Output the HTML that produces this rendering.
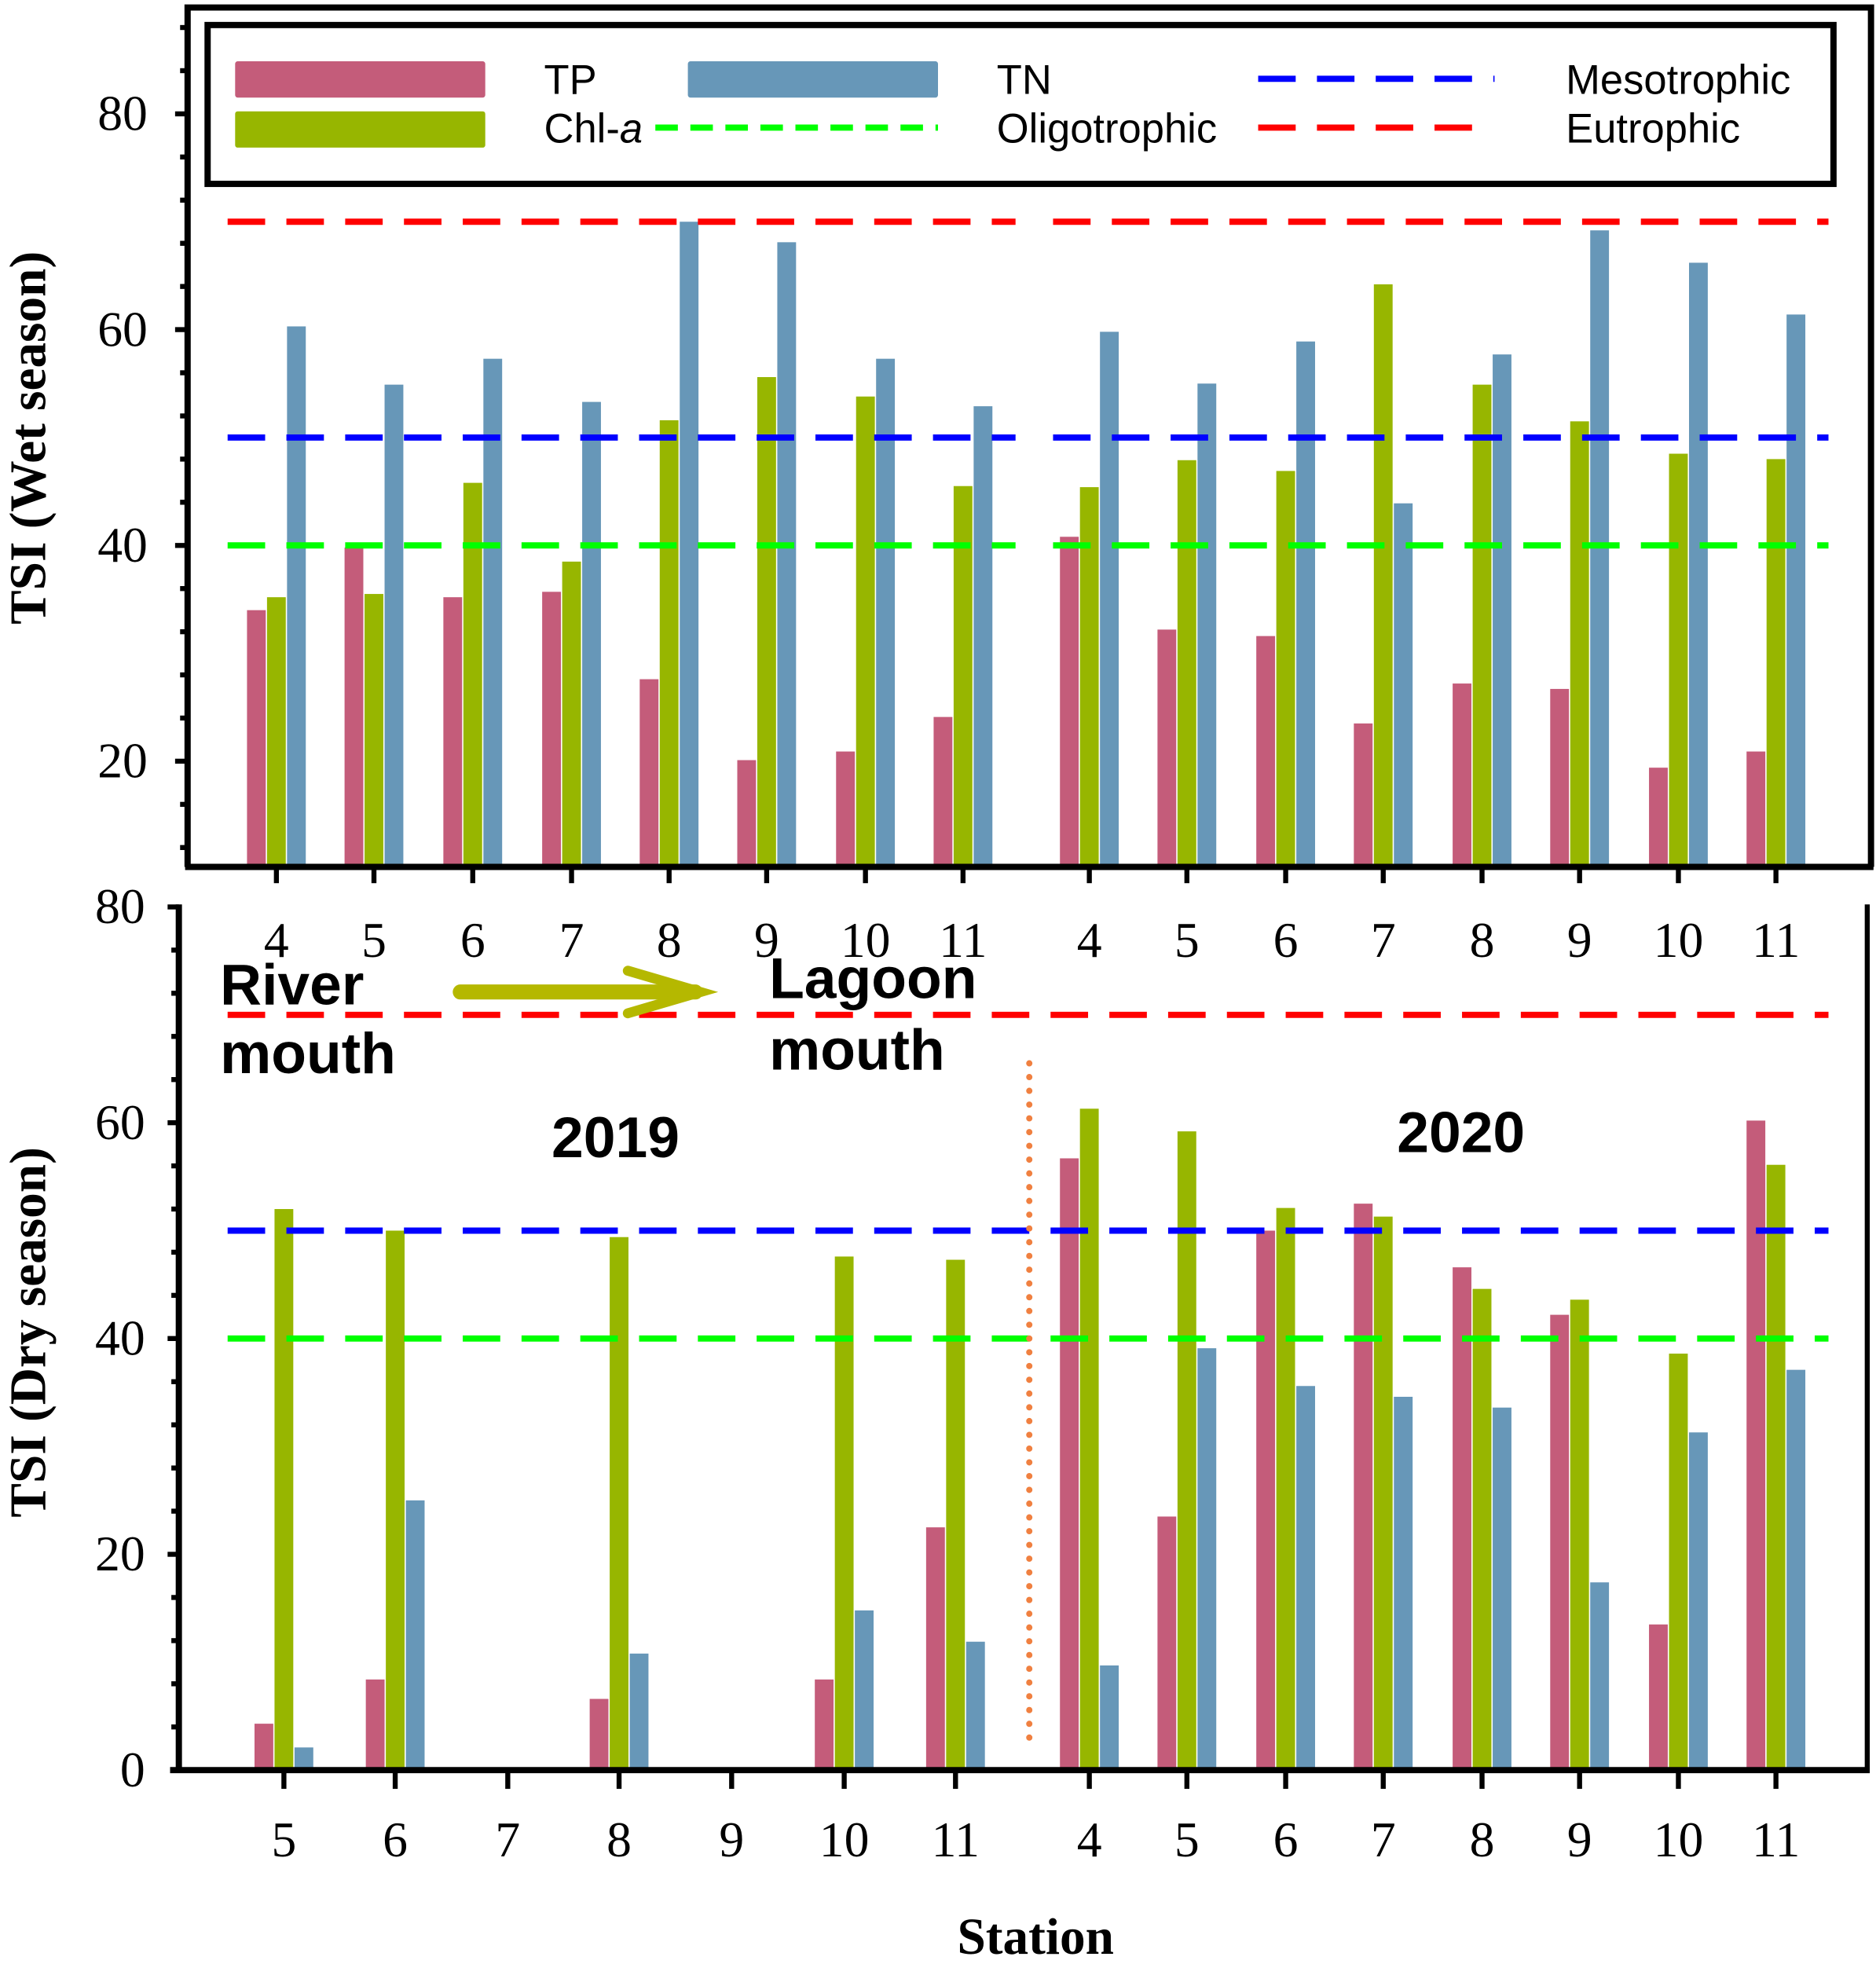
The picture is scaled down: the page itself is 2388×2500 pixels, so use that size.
<!DOCTYPE html>
<html><head><meta charset="utf-8"><style>
html,body{margin:0;padding:0;background:#fff;}
svg{display:block;}
.tick{font-family:"Liberation Serif",serif;font-size:40px;fill:#000;}
.leg{font-family:"Liberation Sans",sans-serif;font-size:33px;fill:#000;}
.ann{font-family:"Liberation Sans",sans-serif;font-size:46px;font-weight:bold;fill:#000;}
.ttl{font-family:"Liberation Serif",serif;font-size:41px;font-weight:bold;fill:#000;}
</style></head><body>
<svg id="chart" width="2388" height="2500" viewBox="0 0 1500 1570" preserveAspectRatio="none" xmlns="http://www.w3.org/2000/svg">
<g id="g"></g>
</svg>
<script>
// ---- data ----
const wetStations = ["4","5","6","7","8","9","10","11","4","5","6","7","8","9","10","11"];
const wetTP  = [34,39.8,35.2,35.7,27.6,20.1,20.9,24.1, 40.8,32.2,31.6,23.5,27.2,26.7,19.4,20.9];
const wetChl = [35.2,35.5,45.8,38.5,51.6,55.6,53.8,45.5, 45.4,47.9,46.9,64.2,54.9,51.5,48.5,48.0];
const wetTN  = [60.3,54.9,57.3,53.3,70,68.1,57.3,52.9, 59.8,55.0,58.9,43.9,57.7,69.2,66.2,61.4];
const dryStations = ["5","6","7","8","9","10","11","4","5","6","7","8","9","10","11"];
const dryTP  = [4.3,8.4,0,6.6,0,8.4,22.5, 56.7,23.5,50,52.5,46.6,42.2,13.5,60.2];
const dryChl = [52,50,0,49.4,0,47.6,47.3, 61.3,59.2,52.1,51.3,44.6,43.6,38.6,56.1];
const dryTN  = [2.1,25,0,10.8,0,14.8,11.9, 9.7,39.1,35.6,34.6,33.6,17.4,31.3,37.1];
const yTicks = [0,20,40,60,80];
const thresholds = [70,50,40]; // eutrophic, mesotrophic, oligotrophic

const NS="http://www.w3.org/2000/svg";
const g=document.getElementById('g');
function el(tag,attrs,parent){const e=document.createElementNS(NS,tag);for(const k in attrs)e.setAttribute(k,attrs[k]);(parent||g).appendChild(e);return e;}
function txt(s,attrs){const e=el('text',attrs);e.textContent=s;return e;}

const COL={tp:"#c45c7a",chl:"#97b600",tn:"#6797b8"};
const wetX=[221,299,378,457,535,613,692,770,871,949,1028,1106,1185,1263,1342,1420];
const dryX=[227,316,406,495,585,675,764,871,949,1028,1106,1185,1263,1342,1420];
const K=8.625;
const yTop=v=>91+(80-v)*K;     // top panel
const yBot=v=>1415-v*K;        // bottom panel

function bars(xs,tp,chl,tn,yf,base,prefix){
  const series=[[tp,COL.tp,-16],[chl,COL.chl,0],[tn,COL.tn,16]];
  series.forEach(([arr,c,off],si)=>{
    arr.forEach((v,i)=>{
      if(v<=0)return;
      const y=Math.min(yf(v),base);
      const r=el('rect',{x:xs[i]+off-7.5,y:y,width:15,height:base-y,fill:c});
      
      
    });
  });
}
function hline(y,x1,x2,color,name){
  const l=el('line',{x1:x1,x2:x2,y1:y,y2:y,stroke:color,'stroke-width':5,'stroke-dasharray':'30 17'});
  
  
}

// ---- top panel ----
bars(wetX,wetTP,wetChl,wetTN,yTop,693,'wet');
const tc=['#ff0000','#0000ff','#00ff00'];const tn=['eutrophic-line','mesotrophic-line','oligotrophic-line'];
thresholds.forEach((t,i)=>{hline(yTop(t),182,812,tc[i],'wet-'+tn[i]+'-2019');hline(yTop(t),842,1462,tc[i],'wet-'+tn[i]+'-2020');});
el('polyline',{points:"150,693 150,6 1496,6 1496,693",fill:"none",stroke:"#000","stroke-width":5});
let ax=el('line',{x1:148,x2:1498,y1:693,y2:693,stroke:"#000","stroke-width":5});

for(let v=12;v<=88;v+=4){const y=yTop(v);const major=v%20===0;el('line',{x1:major?140:144,x2:150,y1:y,y2:y,stroke:"#000","stroke-width":4});}
[20,40,60,80].forEach(v=>{const t=txt(String(v),{x:118,y:yTop(v)+13,class:'tick','text-anchor':'end'});});
wetX.forEach((x,i)=>{el('line',{x1:x,x2:x,y1:693,y2:706,stroke:"#000","stroke-width":4});
  const t=txt(wetStations[i],{x:x,y:765,class:'tick','text-anchor':'middle'});});
let yt=txt("TSI (Wet season)",{x:0,y:0,class:'ttl','text-anchor':'middle',transform:'translate(36,350) rotate(-90)'});


// legend
const lg=el('g',{});
el('rect',{x:166,y:20,width:1300,height:127,fill:"#fff",stroke:"#000","stroke-width":5},lg);
el('rect',{x:188,y:49,width:200,height:29,fill:COL.tp,rx:2},lg);
el('rect',{x:188,y:89,width:200,height:29,fill:COL.chl,rx:2},lg);
el('rect',{x:550,y:49,width:200,height:29,fill:COL.tn,rx:2},lg);
el('line',{x1:524,x2:750,y1:102,y2:102,stroke:"#00ff00","stroke-width":5,"stroke-dasharray":"18 10"},lg);
el('line',{x1:1006,x2:1195,y1:63,y2:63,stroke:"#0000ff","stroke-width":5,"stroke-dasharray":"30 17"},lg);
el('line',{x1:1006,x2:1190,y1:102,y2:102,stroke:"#ff0000","stroke-width":5,"stroke-dasharray":"30 17"},lg);
[["TP",435,75],["TN",797,75],["Mesotrophic",1252,75],["Oligotrophic",797,114],["Eutrophic",1252,114]].forEach(([s,x,y])=>{const t=txt(s,{x:x,y:y,class:'leg'});});
let ch=txt("Chl-",{x:435,y:114,class:'leg'});const it=el('tspan',{'font-style':'italic'},ch);it.textContent="a";


// ---- bottom panel ----
bars(dryX,dryTP,dryChl,dryTN,yBot,1415,'dry');
thresholds.forEach((t,i)=>{hline(yBot(t),182,1462,tc[i],'dry-'+tn[i]);});
let vl=el('line',{x1:823,x2:823,y1:850,y2:1395,stroke:"#f08040","stroke-width":5,"stroke-dasharray":"0 11","stroke-linecap":"round"});

el('line',{x1:143,x2:143,y1:723,y2:1417,stroke:"#000","stroke-width":5});
el('line',{x1:1493,x2:1493,y1:723,y2:1417,stroke:"#000","stroke-width":4});
ax=el('line',{x1:136,x2:1495,y1:1415,y2:1415,stroke:"#000","stroke-width":5});

for(let v=4;v<=80;v+=4){const y=yBot(v);const major=v%20===0;el('line',{x1:major?134:137,x2:143,y1:y,y2:y,stroke:"#000","stroke-width":4});}
yTicks.forEach(v=>{const t=txt(String(v),{x:116,y:yBot(v)+13,class:'tick','text-anchor':'end'});});
dryX.forEach((x,i)=>{el('line',{x1:x,x2:x,y1:1415,y2:1430,stroke:"#000","stroke-width":4});
  const t=txt(dryStations[i],{x:x,y:1484,class:'tick','text-anchor':'middle'});});
yt=txt("TSI (Dry season)",{x:0,y:0,class:'ttl','text-anchor':'middle',transform:'translate(36,1065) rotate(-90)'});

let xt=txt("Station",{x:828,y:1562,class:'ttl','text-anchor':'middle'});


// annotations
[["River",176,803],["mouth",176,858],["Lagoon",615,798],["mouth",615,855],["2019",441,925],["2020",1117,921]].forEach(([s,x,y],i)=>{
  const t=txt(s,{x:x,y:y,class:'ann','font-size':(i>=4?38:47)});});
const ar=el('g',{});
el('line',{x1:368,x2:556,y1:793,y2:793,stroke:"#b5b800","stroke-width":12,"stroke-linecap":"round"},ar);
el('polyline',{points:"502,776 560,793 502,810",fill:"none",stroke:"#b5b800","stroke-width":8,"stroke-linecap":"round"},ar);
</script>
</body></html>
